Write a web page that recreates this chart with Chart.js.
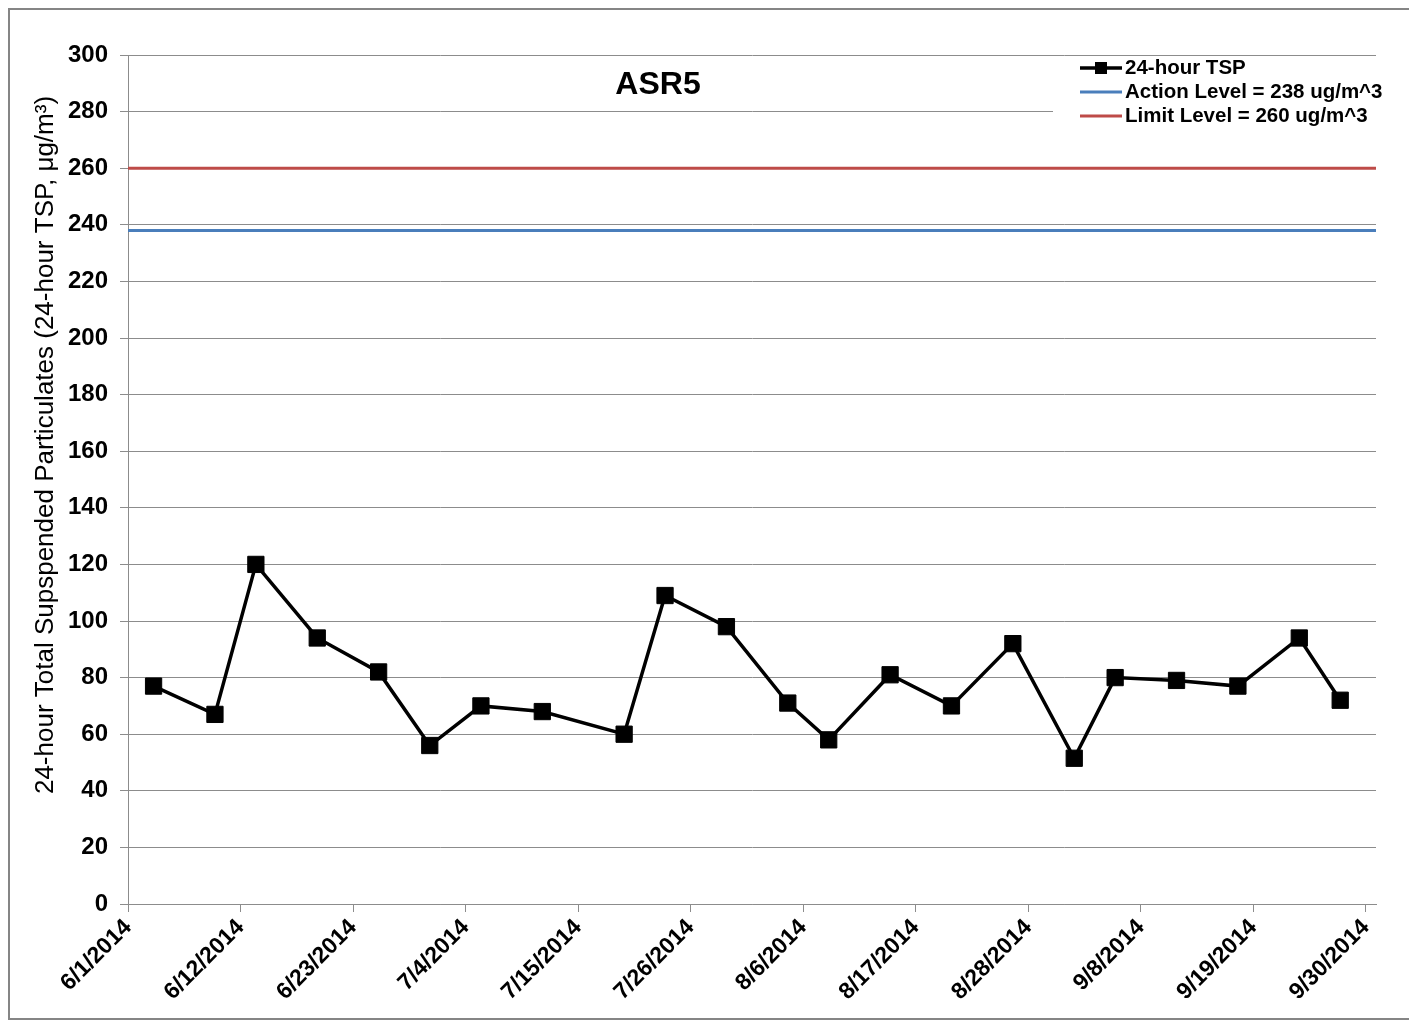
<!DOCTYPE html>
<html>
<head>
<meta charset="utf-8">
<script src="https://cdn.jsdelivr.net/npm/chart.js@4.4.1/dist/chart.umd.min.js"></script>
<style>
  html, body { margin: 0; padding: 0; background: #fff; }
  canvas { display: block; }
</style>
</head>
<body>
<canvas id="chart" width="1409" height="1028"></canvas>
<script>
// sample dates and 24-hour TSP results (ug/m3)
const sampleDates = ['6/3/2014', '6/9/2014', '6/13/2014', '6/19/2014', '6/25/2014', '6/30/2014',
    '7/5/2014', '7/11/2014', '7/19/2014', '7/23/2014', '7/29/2014', '8/4/2014', '8/8/2014',
    '8/14/2014', '8/20/2014', '8/26/2014', '9/1/2014', '9/5/2014', '9/11/2014', '9/17/2014',
    '9/23/2014', '9/27/2014'];
const tspValues = [77, 67, 120, 94, 82, 56, 70, 68, 60, 109, 98, 71, 58, 81, 70, 92, 51.5, 80, 79, 77, 94, 72];

const actionLevel = 238;
const limitLevel = 260;

const xTickLabels = ['6/1/2014', '6/12/2014', '6/23/2014', '7/4/2014', '7/15/2014', '7/26/2014',
    '8/6/2014', '8/17/2014', '8/28/2014', '9/8/2014', '9/19/2014', '9/30/2014'];
const axisStart = '6/1/2014';
const axisEnd = '10/1/2014';

const yTickStep = 20;
const yMax = 300;

const FONT = '"Liberation Sans", Arial, sans-serif';

// days since axisStart
function dayOf(str) {
    const p = str.split('/').map(Number);
    const a = axisStart.split('/').map(Number);
    return (Date.UTC(p[2], p[0] - 1, p[1]) - Date.UTC(a[2], a[0] - 1, a[1])) / 86400000;
}

const xMin = dayOf(axisStart);
const xMax = dayOf(axisEnd);
const xTickDays = xTickLabels.map(dayOf);

// Excel date axis puts each point in the middle of its day
const tspPoints = sampleDates.map((d, i) => ({ x: dayOf(d) + 0.5, y: tspValues[i] }));

const chartDecor = {
    id: 'chartDecor',
    beforeDraw(chart) {
        const ctx = chart.ctx;
        ctx.save();
        ctx.fillStyle = '#fff';
        ctx.fillRect(0, 0, chart.width, chart.height);
        ctx.restore();
    },
    afterDraw(chart) {
        const ctx = chart.ctx;
        ctx.save();
        // outer frame (right edge falls outside the picture)
        ctx.strokeStyle = '#858585';
        ctx.lineWidth = 2;
        ctx.strokeRect(9, 9, chart.width + 10, chart.height - 18);

        // chart title
        ctx.fillStyle = '#000';
        ctx.font = 'bold 32px ' + FONT;
        ctx.textAlign = 'center';
        ctx.textBaseline = 'middle';
        ctx.fillText('ASR5', 658, 85);

        // y axis title
        ctx.save();
        ctx.translate(46, 445);
        ctx.rotate(-Math.PI / 2);
        ctx.font = '26px ' + FONT;
        ctx.fillText('24-hour Total Supspended Particulates (24-hour TSP, \u03bcg/m\u00b3)', 0, 0);
        ctx.restore();

        // legend
        ctx.fillStyle = '#fff';
        ctx.fillRect(1053, 58, 356, 68);
        const rows = [68, 92, 116];
        chart.data.datasets.forEach((ds, i) => {
            const y = rows[i];
            ctx.strokeStyle = ds.borderColor;
            ctx.lineWidth = ds.borderWidth;
            ctx.beginPath();
            ctx.moveTo(1080, y);
            ctx.lineTo(1122, y);
            ctx.stroke();
            if (ds.pointRadius > 0) {
                ctx.fillStyle = ds.pointBackgroundColor;
                ctx.fillRect(1095, y - 6, 12, 12);
            }
            ctx.fillStyle = '#000';
            ctx.font = 'bold 20.5px ' + FONT;
            ctx.textAlign = 'left';
            ctx.textBaseline = 'middle';
            ctx.fillText(ds.label, 1125, y);
        });
        ctx.restore();
    }
};

new Chart(document.getElementById('chart'), {
    type: 'line',
    data: {
        datasets: [
            {
                label: '24-hour TSP',
                data: tspPoints,
                borderColor: '#000',
                backgroundColor: '#000',
                borderWidth: 3.5,
                pointStyle: 'rect',
                pointRadius: 11.5,
                pointBorderWidth: 1,
                pointBackgroundColor: '#000',
                pointBorderColor: '#000',
                tension: 0,
                order: 0
            },
            {
                label: 'Action Level = 238 ug/m^3',
                data: [{ x: xMin, y: actionLevel }, { x: xMax, y: actionLevel }],
                borderColor: '#4a7ebb',
                borderWidth: 3,
                pointRadius: 0,
                order: 1
            },
            {
                label: 'Limit Level = 260 ug/m^3',
                data: [{ x: xMin, y: limitLevel }, { x: xMax, y: limitLevel }],
                borderColor: '#be4b48',
                borderWidth: 3,
                pointRadius: 0,
                order: 2
            }
        ]
    },
    options: {
        responsive: false,
        animation: false,
        layout: { padding: { left: 0, top: 55, right: 33, bottom: 0 } },
        plugins: {
            legend: { display: false },
            tooltip: { enabled: false },
            title: { display: false }
        },
        scales: {
            x: {
                type: 'linear',
                min: xMin,
                max: xMax,
                afterBuildTicks(scale) {
                    scale.ticks = xTickDays.map(v => ({ value: v }));
                },
                afterFit(scale) { scale.height = 124; },
                grid: {
                    drawOnChartArea: false,
                    drawTicks: true,
                    tickLength: 8,
                    color: '#8c8c8c'
                },
                border: { color: '#8c8c8c', width: 1 },
                ticks: {
                    autoSkip: false,
                    minRotation: 45,
                    maxRotation: 45,
                    padding: 2,
                    color: '#000',
                    font: { family: FONT, size: 23, weight: 'bold' },
                    callback(value) {
                        const i = xTickDays.indexOf(value);
                        return i >= 0 ? xTickLabels[i] : '';
                    }
                }
            },
            y: {
                min: 0,
                max: yMax,
                afterFit(scale) { scale.width = 128; },
                grid: {
                    color: '#8c8c8c',
                    tickLength: 8,
                    lineWidth: 1
                },
                border: { color: '#8c8c8c', width: 1 },
                ticks: {
                    stepSize: yTickStep,
                    padding: 12,
                    color: '#000',
                    font: { family: FONT, size: 24, weight: 'bold' }
                }
            }
        }
    },
    plugins: [chartDecor]
});
</script>
</body>
</html>
